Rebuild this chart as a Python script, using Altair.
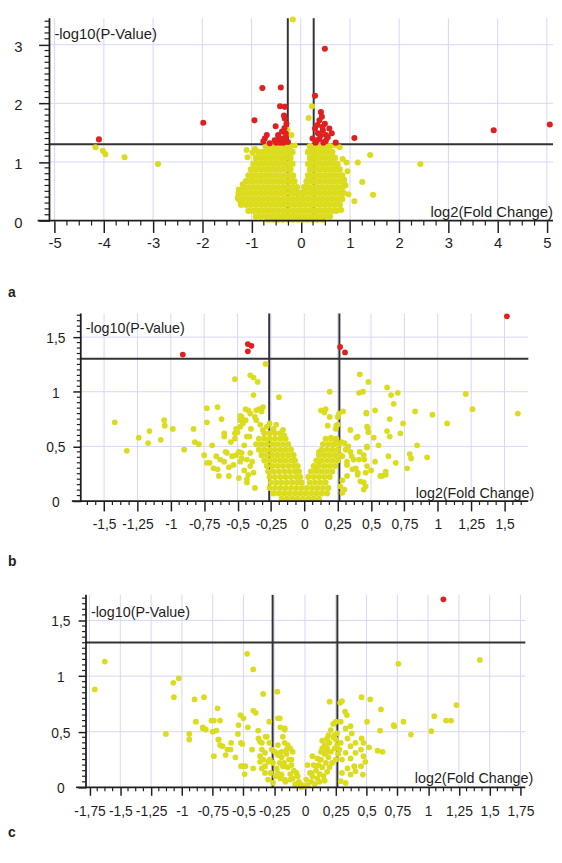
import altair as alt
import pandas as pd

FONT = "Liberation Sans"
YEL = "#dcdc1e"
RED = "#e02020"
GRID = "#d6d6f8"
INK = "#1e1e1e"
LINE = "#333333"

Y_TITLE = "-log10(P-Value)"
X_TITLE = "log2(Fold Change)"
P_CUT = [1.301]
FC_CUT = [-0.263, 0.263]
LETTERS = ["a", "b", "c"]

# ---------------- panel a ----------------
A_XTICKS = [-5, -4, -3, -2, -1, 0, 1, 2, 3, 4, 5]
A_YTICKS = [0, 1, 2, 3]
A_YLABELS = ["0", "1", "2", "3"]
A_RED = [(-4.10, 1.385), (-1.98, 1.67), (-0.94, 1.71), (-0.78, 2.26), (-0.405, 2.27), (0.49, 2.93),
         (0.29, 2.13), (1.09, 1.41), (3.92, 1.54), (5.06, 1.64), (-0.42, 1.95), (-0.325, 1.94),
         (-0.34, 1.79), (-0.325, 1.74), (-0.51, 1.61), (-0.29, 1.65), (-0.38, 1.52), (-0.31, 1.49),
         (-0.46, 1.46), (-0.69, 1.46), (-0.73, 1.40), (-0.76, 1.35), (-0.53, 1.37), (-0.36, 1.40),
         (-0.42, 1.33), (-0.26, 1.34), (-0.63, 1.32), (-0.33, 1.58), (-0.45, 1.42), (-0.30, 1.42),
         (-0.50, 1.33), (-0.35, 1.33), (0.41, 1.85), (0.43, 1.77), (0.38, 1.71), (0.49, 1.65),
         (0.34, 1.63), (0.29, 1.57), (0.45, 1.54), (0.58, 1.57), (0.63, 1.49), (0.51, 1.46),
         (0.35, 1.49), (0.24, 1.40), (0.38, 1.39), (0.51, 1.36), (0.71, 1.33), (0.30, 1.33),
         (0.44, 1.60), (0.40, 1.45), (0.55, 1.42), (0.33, 1.37), (0.46, 1.33)]
A_YEL = [(-4.17, 1.25), (-4.02, 1.19), (-3.97, 1.13), (-3.58, 1.08), (-2.90, 0.965), (-0.16, 3.43),
         (0.23, 1.95), (0.16, 1.75), (-0.27, 1.55), (-0.19, 1.46), (0.79, 1.25), (1.41, 1.12),
         (1.16, 0.99), (2.43, 0.965), (0.85, 1.05), (0.93, 0.99), (1.25, 0.66), (1.47, 0.44),
         (1.09, 0.33), (0.75, 0.94), (0.95, 0.84), (0.88, 0.70), (0.91, 0.60), (-1.10, 1.205),
         (-1.08, 1.08), (-0.99, 0.76), (-1.26, 0.53), (-1.28, 0.39), (-0.98, 1.16), (0.70, 1.28),
         (-0.12, 1.28), (-1.18, 0.62), (-1.22, 0.30), (0.82, 0.18), (0.97, 0.45), (-0.93, 1.22)]
A_BLOB = [
    (1.27, [-0.71, -0.61, -0.51, -0.41, -0.31, -0.21, 0.19, 0.29, 0.39, 0.49, 0.59]),
    (1.17, [-0.86, -0.76, -0.66, -0.56, -0.46, -0.36, -0.26, -0.17, 0.15, 0.24, 0.34, 0.44, 0.54, 0.64]),
    (1.07, [-0.91, -0.81, -0.71, -0.61, -0.51, -0.41, -0.31, -0.21, 0.19, 0.29, 0.39, 0.49, 0.59, 0.69]),
    (0.97, [-0.96, -0.86, -0.76, -0.66, -0.56, -0.46, -0.36, -0.26, -0.17, 0.15, 0.24, 0.34, 0.44, 0.54, 0.64, 0.74]),
    (0.87, [-1.01, -0.91, -0.81, -0.71, -0.61, -0.51, -0.41, -0.31, -0.21, 0.19, 0.29, 0.39, 0.49, 0.59, 0.69, 0.79]),
    (0.77, [-1.06, -0.96, -0.86, -0.76, -0.66, -0.56, -0.46, -0.36, -0.26, -0.16, 0.15, 0.24, 0.34, 0.44, 0.54, 0.64, 0.74, 0.84]),
    (0.67, [-1.11, -1.01, -0.91, -0.81, -0.71, -0.61, -0.51, -0.41, -0.31, -0.21, -0.13, 0.12, 0.19, 0.29, 0.39, 0.49, 0.59, 0.69, 0.79, 0.87]),
    (0.57, [-1.16, -1.06, -0.96, -0.86, -0.76, -0.66, -0.56, -0.46, -0.36, -0.26, -0.16, -0.08, 0.07, 0.14, 0.24, 0.34, 0.44, 0.54, 0.64, 0.74, 0.84]),
    (0.47, [-1.26, -1.21, -1.11, -1.01, -0.91, -0.81, -0.71, -0.61, -0.51, -0.41, -0.31, -0.21, -0.11, -0.03, 0.03, 0.09, 0.19, 0.29, 0.39, 0.49, 0.59, 0.69, 0.79, 0.87]),
    (0.37, [-1.26, -1.16, -1.06, -0.96, -0.86, -0.76, -0.66, -0.56, -0.46, -0.36, -0.26, -0.16, -0.06, 0.04, 0.14, 0.24, 0.34, 0.44, 0.54, 0.64, 0.74, 0.84]),
    (0.27, [-1.21, -1.11, -1.01, -0.91, -0.81, -0.71, -0.61, -0.51, -0.41, -0.31, -0.21, -0.11, -0.01, 0.09, 0.19, 0.29, 0.39, 0.49, 0.59, 0.69, 0.79]),
    (0.17, [-1.06, -0.96, -0.86, -0.76, -0.66, -0.56, -0.46, -0.36, -0.26, -0.16, -0.06, 0.04, 0.14, 0.24, 0.34, 0.44, 0.54, 0.64, 0.72]),
    (0.07, [-0.91, -0.81, -0.71, -0.61, -0.51, -0.41, -0.31, -0.21, -0.11, -0.01, 0.09, 0.19, 0.29, 0.39, 0.49, 0.59]),
    (0.02, [-0.66, -0.56, -0.46, -0.36, -0.26, -0.16, -0.06, 0.04, 0.14, 0.24, 0.34, 0.44]),
]

# ---------------- panel b ----------------
B_XTICKS = [-1.5, -1.25, -1, -0.75, -0.5, -0.25, 0, 0.25, 0.5, 0.75, 1, 1.25, 1.5]
B_YTICKS = [0, 0.5, 1, 1.5]
B_YLABELS = ["0", "0,5", "1", "1,5"]
B_RED = [(-0.91, 1.34), (-0.423, 1.436), (-0.396, 1.42), (-0.423, 1.37), (0.268, 1.41),
         (0.305, 1.36), (1.518, 1.69)]
B_YEL = [(-1.42, 0.72), (-1.33, 0.46), (-1.24, 0.58), (-1.16, 0.64), (-1.17, 0.53), (-1.075, 0.56),
         (-1.05, 0.74), (-1.045, 0.69), (-0.985, 0.66), (-0.90, 0.47), (-0.83, 0.66), (-0.82, 0.54),
         (-0.79, 0.52), (-0.73, 0.85), (-0.65, 0.86), (-0.62, 0.75), (-0.73, 0.72), (-0.69, 0.51),
         (-0.75, 0.42), (-0.71, 0.35), (-0.73, 0.35), (-0.68, 0.30), (-0.65, 0.29), (-0.64, 0.23),
         (-0.60, 0.62), (-0.60, 0.59), (-0.59, 0.45), (-0.58, 0.44), (-0.55, 0.54), (-0.51, 0.66),
         (-0.50, 0.63), (-0.52, 0.57), (-0.48, 0.74), (-0.46, 0.71), (-0.48, 0.78), (-0.44, 0.74),
         (-0.36, 0.74), (-0.34, 0.84), (-0.31, 0.86), (-0.32, 0.82), (-0.49, 0.21), (-0.43, 0.20),
         (-0.37, 0.12), (-0.565, 0.31), (-0.53, 0.33), (-0.48, 0.36), (-0.43, 0.38), (-0.39, 0.36),
         (-0.66, 0.41), (-0.63, 0.38), (-0.60, 0.36), (-0.54, 0.41), (-0.51, 0.42), (-0.47, 0.44),
         (-0.405, 0.44), (-0.49, 0.45), (-0.29, 1.255), (-0.52, 1.115), (-0.405, 1.15), (-0.38, 1.13),
         (-0.35, 1.09), (-0.38, 0.97), (-0.42, 0.83), (-0.405, 0.80), (-0.19, 0.95), (-0.36, 0.83),
         (-0.47, 0.77), (-0.26, 0.71), (-0.16, 0.65), (-0.15, 0.60), (-0.31, 0.65), (-0.52, 0.62),
         (-0.43, 0.59), (-0.45, 0.51), (-0.38, 0.26), (-0.405, 0.32), (-0.47, 0.39), (-0.44, 0.84),
         (-0.48, 0.68), (-0.41, 0.59), (-0.37, 0.77), (-0.43, 0.17), (-0.565, 0.23), (-0.40, 0.66),
         (-0.33, 0.70), (-0.28, 0.68), (-0.23, 0.66), (-0.21, 0.70), (-0.45, 0.28), (-0.42, 0.24),
         (0.416, 1.16), (0.48, 1.09), (0.41, 0.99), (0.44, 1.00), (0.19, 1.00), (0.62, 1.04),
         (0.65, 0.97), (0.70, 0.99), (0.67, 0.89), (1.21, 0.98), (1.26, 0.84), (0.83, 0.82),
         (0.96, 0.79), (1.07, 0.71), (0.74, 0.71), (0.64, 0.75), (0.72, 0.62), (0.62, 0.64),
         (0.64, 0.59), (0.53, 0.83), (0.465, 0.81), (0.475, 0.67), (0.48, 0.63), (0.52, 0.58),
         (0.556, 0.51), (0.47, 0.49), (0.39, 0.58), (0.345, 0.65), (0.29, 0.82), (0.26, 0.80),
         (0.25, 0.77), (0.16, 0.84), (0.15, 0.81), (0.19, 0.77), (0.175, 0.69), (0.25, 0.70),
         (0.236, 0.66), (0.20, 0.58), (0.28, 0.54), (0.345, 0.45), (0.37, 0.38), (0.41, 0.38),
         (0.45, 0.38), (0.53, 0.36), (0.63, 0.41), (0.685, 0.35), (0.79, 0.43), (0.80, 0.39),
         (0.845, 0.51), (0.92, 0.40), (0.77, 0.30), (0.50, 0.28), (0.46, 0.26), (0.58, 0.23),
         (0.61, 0.27), (0.445, 0.17), (0.46, 0.135), (0.40, 0.26), (0.385, 0.30), (0.32, 0.33),
         (0.355, 0.41), (0.415, 0.45), (0.31, 0.47), (0.445, 0.42), (0.30, 0.105), (0.285, 0.19),
         (1.60, 0.80), (0.61, 0.24), (0.57, 0.23), (0.125, 0.83), (0.24, 0.69), (0.236, 0.56),
         (0.11, 0.45), (0.11, 0.36), (0.09, 0.29), (0.30, 0.53), (0.33, 0.50), (0.40, 0.59),
         (0.47, 0.50), (0.47, 0.68), (0.465, 0.80), (0.285, 0.41), (0.32, 0.36), (0.36, 0.29),
         (0.40, 0.24), (0.47, 0.32), (0.42, 0.18), (0.445, 0.105), (0.32, 0.23), (0.27, 0.135),
         (0.285, 0.075)]
B_DENSE = [
    (0.62, [-0.30, -0.26, -0.22, -0.18]),
    (0.57, [-0.34, -0.30, -0.26, -0.22, -0.18, -0.14, 0.16, 0.20, 0.24]),
    (0.52, [-0.36, -0.32, -0.28, -0.24, -0.20, -0.16, -0.12, 0.14, 0.18, 0.22, 0.26]),
    (0.47, [-0.34, -0.30, -0.26, -0.22, -0.18, -0.14, -0.10, 0.13, 0.17, 0.21, 0.25]),
    (0.42, [-0.32, -0.28, -0.24, -0.20, -0.16, -0.12, -0.08, 0.11, 0.15, 0.19, 0.23, 0.27]),
    (0.37, [-0.30, -0.26, -0.22, -0.18, -0.14, -0.10, -0.07, 0.09, 0.13, 0.17, 0.21, 0.25]),
    (0.32, [-0.28, -0.24, -0.20, -0.16, -0.12, -0.08, -0.05, 0.07, 0.11, 0.15, 0.19, 0.23]),
    (0.27, [-0.27, -0.23, -0.19, -0.15, -0.11, -0.07, -0.04, 0.05, 0.09, 0.13, 0.17, 0.21]),
    (0.22, [-0.26, -0.22, -0.18, -0.14, -0.10, -0.06, -0.03, 0.03, 0.07, 0.11, 0.15, 0.19]),
    (0.17, [-0.25, -0.21, -0.17, -0.13, -0.09, -0.05, -0.02, 0.04, 0.08, 0.12, 0.16]),
    (0.12, [-0.26, -0.22, -0.18, -0.14, -0.10, -0.06, -0.02, 0.02, 0.06, 0.10, 0.14, 0.18]),
    (0.07, [-0.23, -0.19, -0.15, -0.11, -0.07, -0.03, 0.01, 0.05, 0.09, 0.13, 0.17]),
    (0.02, [-0.17, -0.13, -0.09, -0.05, -0.01, 0.03, 0.07, 0.11]),
]

# ---------------- panel c ----------------
C_XTICKS = [-1.75, -1.5, -1.25, -1, -0.75, -0.5, -0.25, 0, 0.25, 0.5, 0.75, 1, 1.25, 1.5, 1.75]
C_YTICKS = [0, 0.5, 1, 1.5]
C_YLABELS = ["0", "0,5", "1", "1,5"]
C_RED = [(1.124, 1.69)]
C_YEL = [(-1.707, 0.88), (-1.626, 1.13), (-1.13, 0.48), (-1.07, 0.94), (-1.065, 0.81), (-1.025, 0.98),
         (-0.94, 0.48), (-0.94, 0.43), (-0.897, 0.79), (-0.886, 0.59), (-0.82, 0.81), (-0.83, 0.54),
         (-0.806, 0.52), (-0.74, 0.60), (-0.75, 0.50), (-0.74, 0.28), (-0.71, 0.71), (-0.70, 0.43),
         (-0.69, 0.60), (-0.67, 0.37), (-0.645, 0.29), (-0.63, 0.34), (-0.605, 0.34), (-0.60, 0.40),
         (-0.565, 0.27), (-0.545, 0.48), (-0.54, 0.56), (-0.525, 0.65), (-0.50, 0.62), (-0.51, 0.39),
         (-0.51, 0.19), (-0.485, 0.19), (-0.49, 0.12), (-0.47, 1.20), (-0.42, 1.06), (-0.464, 0.54),
         (-0.42, 0.69), (-0.40, 0.67), (-0.43, 0.34), (-0.42, 0.17), (-0.38, 0.51), (-0.365, 0.41),
         (-0.34, 0.84), (-0.31, 0.455), (-0.29, 0.59), (-0.285, 0.25), (-0.325, 0.19), (-0.365, 0.23),
         (-0.22, 0.62), (-0.225, 0.86), (-0.20, 0.54), (-0.18, 0.455), (-0.165, 0.52), (-0.72, 0.51),
         (-0.76, 0.60), (-0.705, 0.43), (-0.69, 0.38), (-0.52, 0.40), (-0.52, 0.19), (-0.83, 0.53),
         (-0.378, 0.44), (-0.35, 0.40), (-0.32, 0.455), (-0.29, 0.40), (-0.27, 0.34), (-0.245, 0.32),
         (-0.22, 0.29), (-0.19, 0.32), (-0.165, 0.40), (-0.35, 0.34), (-0.325, 0.31), (-0.365, 0.28),
         (-0.34, 0.25), (-0.30, 0.23), (-0.26, 0.22), (-0.23, 0.17), (-0.205, 0.22), (-0.165, 0.19),
         (-0.35, 0.17), (-0.325, 0.13), (-0.28, 0.13), (-0.24, 0.10), (-0.19, 0.115), (-0.165, 0.07),
         (-0.30, 0.07), (-0.26, 0.04),
         (0.758, 1.11), (1.42, 1.145), (1.23, 0.74), (1.05, 0.64), (1.146, 0.60), (1.186, 0.60),
         (1.026, 0.505), (0.86, 0.475), (0.80, 0.59), (0.72, 0.56), (0.725, 0.55), (0.617, 0.70),
         (0.61, 0.51), (0.59, 0.33), (0.63, 0.32), (0.459, 0.81), (0.53, 0.79), (0.504, 0.59),
         (0.20, 0.77), (0.285, 0.76), (0.30, 0.775), (0.325, 0.68), (0.34, 0.65), (0.23, 0.57),
         (0.29, 0.59), (0.37, 0.55), (0.33, 0.53), (0.26, 0.485), (0.38, 0.485), (0.46, 0.44),
         (0.41, 0.40), (0.475, 0.40), (0.52, 0.36), (0.455, 0.34), (0.41, 0.31), (0.475, 0.28),
         (0.49, 0.23), (0.455, 0.19), (0.47, 0.115), (0.25, 0.43), (0.29, 0.40), (0.345, 0.44),
         (0.37, 0.37), (0.33, 0.31), (0.28, 0.34), (0.30, 0.25), (0.37, 0.26), (0.40, 0.19),
         (0.345, 0.17), (0.30, 0.13), (0.37, 0.115), (0.41, 0.145), (0.29, 0.056), (0.33, 0.04),
         (-0.165, 0.53), (-0.205, 0.62), (0.18, 0.44), (0.19, 0.40), (0.17, 0.31), (0.12, 0.25),
         (0.09, 0.19), (0.05, 0.13), (0.01, 0.07), (-0.04, 0.03), (-0.12, 0.07), (-0.18, 0.19),
         (-0.205, 0.31), (-0.15, 0.34), (-0.11, 0.25), (-0.07, 0.13), (0.25, 0.59), (0.21, 0.515),
         (0.24, 0.47), (0.14, 0.35), (0.06, 0.28), (0.02, 0.20),
         (0.02, 0.02), (0.05, 0.05), (0.08, 0.03), (0.10, 0.08), (0.06, 0.10), (0.12, 0.12),
         (0.09, 0.15), (0.14, 0.18), (0.11, 0.20), (0.17, 0.22), (0.13, 0.25), (0.19, 0.27),
         (0.16, 0.30), (0.21, 0.32), (0.18, 0.35), (0.24, 0.35), (0.20, 0.40), (0.23, 0.45),
         (0.26, 0.38), (0.15, 0.10), (0.18, 0.14), (0.20, 0.18), (0.22, 0.22), (0.25, 0.25),
         (0.27, 0.30), (0.12, 0.05), (0.16, 0.06), (0.04, 0.13), (0.07, 0.20), (0.10, 0.26),
         (0.13, 0.32), (0.16, 0.38), (0.19, 0.47), (0.14, 0.42), (-0.02, 0.02), (-0.05, 0.05),
         (-0.08, 0.03), (-0.10, 0.08), (-0.06, 0.10), (-0.12, 0.12), (-0.09, 0.15), (-0.14, 0.18),
         (-0.11, 0.20), (-0.17, 0.22), (-0.13, 0.25), (-0.15, 0.30), (-0.12, 0.35), (-0.16, 0.05),
         (-0.20, 0.08), (-0.22, 0.13), (-0.03, 0.00), (0.00, 0.01), (-0.19, 0.27), (-0.10, 0.32),
         (-0.14, 0.38), (-0.22, 0.38)]


def pts(pairs):
    return pd.DataFrame(pairs, columns=["x", "y"])


def rows(rowlist):
    return pd.DataFrame([(x, y) for y, xs in rowlist for x in xs], columns=["x", "y"])


def minor(lo, hi, step, majors):
    out = []
    k = 1
    while lo + k * step <= hi + 1e-9:
        v = round(lo + k * step, 4)
        if all(abs(v - m) > 1e-6 for m in majors):
            out.append(v)
        k += 1
    return out


FMT = "replace(toString(datum.value), '.', ',')"


def panel(letter, red, yel, dense, xticks, yticks, ylabels, xminor, yminor, L):
    W, H, xr0 = L["W"], L["H"], L["xr0"]
    xs = alt.Scale(domain=L["xdom"], range=[xr0, W], nice=False, zero=False)
    ys = alt.Scale(domain=[0, L["ymax"]], nice=False, zero=False)
    xa = alt.Axis(values=xticks, title=None, grid=False, domain=False, tickSize=L["xt"],
                  tickWidth=1.5, tickColor=INK, labelExpr=FMT, labelFont=FONT,
                  labelFontSize=L["fs"], labelColor=INK, labelPadding=L["xlp"],
                  labelFlush=False, labelOverlap=False)
    ya = alt.Axis(values=yticks, title=None, grid=False, domain=False, tickSize=L["yt"],
                  tickWidth=1.5, tickColor=INK, labels=False, offset=-xr0)

    def X(f):
        return alt.X(f, type="quantitative", scale=xs, axis=xa)

    def Y(f):
        return alt.Y(f, type="quantitative", scale=ys, axis=ya)

    one = pd.DataFrame({"v": [0]})
    gx = alt.Chart(pd.DataFrame({"v": xticks})).mark_rule(color=GRID, strokeWidth=1).encode(
        x=X("v"), y=alt.value(0), y2=alt.value(H))
    gy = alt.Chart(pd.DataFrame({"v": [t for t in yticks if t > 0]})).mark_rule(
        color=GRID, strokeWidth=1).encode(y=Y("v"), x=alt.value(xr0), x2=alt.value(W))
    th = alt.Chart(pd.DataFrame({"v": P_CUT})).mark_rule(color=LINE, strokeWidth=2).encode(
        y=Y("v"), x=alt.value(xr0), x2=alt.value(W))
    tv = alt.Chart(pd.DataFrame({"v": FC_CUT})).mark_rule(color=LINE, strokeWidth=2).encode(
        x=X("v"), y=alt.value(0), y2=alt.value(H))
    layers = [gx, gy, th, tv]
    if dense is not None:
        layers.append(alt.Chart(dense).mark_circle(size=L["ds"], color=YEL, opacity=1).encode(
            x=X("x"), y=Y("y")))
    layers.append(alt.Chart(yel).mark_circle(size=L["ps"], color=YEL, opacity=1).encode(
        x=X("x"), y=Y("y")))
    layers.append(alt.Chart(red).mark_circle(size=L["ps"], color=RED, opacity=1).encode(
        x=X("x"), y=Y("y")))
    xl = alt.Chart(one).mark_rule(color=INK, strokeWidth=1.8).encode(
        x=alt.value(xr0 - L["ext"]), x2=alt.value(W), y=alt.value(H))
    yl = alt.Chart(one).mark_rule(color=INK, strokeWidth=1.8).encode(
        x=alt.value(xr0), y=alt.value(0), y2=alt.value(H))
    mx = alt.Chart(pd.DataFrame({"v": xminor})).mark_rule(color=INK, strokeWidth=1.2).encode(
        x=X("v"), y=alt.value(H), y2=alt.value(H + L["mt"]))
    my = alt.Chart(pd.DataFrame({"v": yminor})).mark_rule(color=INK, strokeWidth=1.2).encode(
        y=Y("v"), x=alt.value(xr0 - L["mt"]), x2=alt.value(xr0))
    ylab = alt.Chart(pd.DataFrame({"v": yticks, "t": ylabels})).mark_text(
        align="center", baseline="middle", font=FONT, fontSize=L["fs"], color=INK, dy=2).encode(
        y=Y("v"), text="t:N", x=alt.value(xr0 - L["yld"]))
    t1 = alt.Chart(pd.DataFrame({"t": [Y_TITLE]})).mark_text(
        align="left", baseline="middle", font=FONT, fontSize=L["tfs"], color=INK).encode(
        text="t:N", x=alt.value(xr0 + 5), y=alt.value(L["ty"]))
    t2 = alt.Chart(pd.DataFrame({"t": [X_TITLE]})).mark_text(
        align="right", baseline="middle", font=FONT, fontSize=L["tfs"], color=INK).encode(
        text="t:N", x=alt.value(W + L["tx2"]), y=alt.value(H - L["ty2"]))
    lab = alt.Chart(pd.DataFrame({"t": [letter]})).mark_text(
        align="left", baseline="alphabetic", font=FONT, fontSize=14, fontWeight="bold",
        color=INK).encode(text="t:N", x=alt.value(0), y=alt.value(H + L["ly"]))
    box = alt.Chart(one).mark_rule(opacity=0, strokeWidth=1).encode(
        x=alt.value(xr0), y=alt.value(-L["tp"]), y2=alt.value(H + L["bp"]))
    layers += [xl, yl, mx, my, ylab, t1, t2, lab, box]
    return alt.layer(*layers).properties(width=W, height=H)


# group origin sits at page x = 8; xr0 is where each plot's y axis falls
LA = dict(W=552, H=205, xr0=42, xdom=[-5.105, 5.125], ymax=3.451, fs=15, xt=12, yt=11, mt=5,
          xlp=3.7, yld=31.4, tfs=15, ty=16, ty2=8.7, tx2=0, ext=12, ly=77, tp=5, bp=86,
          ps=38, ds=44)
LB = dict(W=527, H=190, xr0=73.7, xdom=[-1.6746, 1.6783], ymax=1.7164, fs=14, xt=10, yt=8, mt=4,
          xlp=7, yld=25.2, tfs=14.5, ty=16, ty2=7.4, tx2=6, ext=9, ly=66, tp=8, bp=87,
          ps=34, ds=38)
LC = dict(W=524, H=195, xr0=79, xdom=[-1.7787, 1.7899], ymax=1.730, fs=14, xt=8, yt=8, mt=4,
          xlp=9.5, yld=25.5, tfs=14.5, ty=18, ty2=8.6, tx2=8, ext=10, ly=50, tp=8, bp=53,
          ps=34, ds=38)

pa = panel(LETTERS[0], pts(A_RED), pts(A_YEL), rows(A_BLOB), A_XTICKS, A_YTICKS, A_YLABELS,
           minor(-5, 5, 0.25, A_XTICKS), minor(0, 3.4, 0.1, A_YTICKS), LA)
pb = panel(LETTERS[1], pts(B_RED), pts(B_YEL), rows(B_DENSE), B_XTICKS, B_YTICKS, B_YLABELS,
           minor(-1.6875, 1.625, 0.0625, B_XTICKS), minor(0, 1.7, 0.05, B_YTICKS), LB)
pc = panel(LETTERS[2], pts(C_RED), pts(C_YEL), None, C_XTICKS, C_YTICKS, C_YLABELS,
           minor(-1.75, 1.75, 0.0625, C_XTICKS), minor(0, 1.7, 0.05, C_YTICKS), LC)

chart = alt.vconcat(pa, pb, pc, spacing=0).properties(
    padding={"left": 0, "top": 0, "right": 0, "bottom": 0}
).configure_view(stroke=None)

chart.save("out.html", embed_options={"renderer": "svg", "actions": False})
